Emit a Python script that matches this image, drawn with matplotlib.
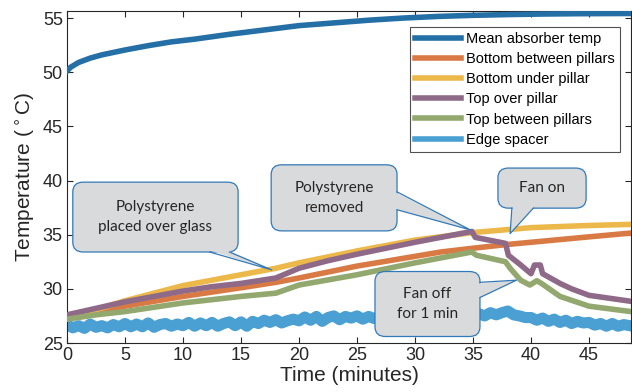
import numpy as np
import matplotlib
matplotlib.use("Agg")
import matplotlib.pyplot as plt
from matplotlib.patches import FancyBboxPatch, Polygon

plt.rcParams['font.family'] = ['Liberation Sans', 'DejaVu Sans']

# czasy i temperatury
t_mean = [0, 0.3, 1, 2, 3, 5, 7, 9, 11, 12, 14, 17, 20, 23, 26, 29, 32, 35, 38, 41, 44, 48.6]
T_mean = [50.1, 50.45, 50.9, 51.3, 51.6, 52.05, 52.45, 52.8, 53.05, 53.2, 53.5, 53.9, 54.3,
          54.55, 54.8, 55.0, 55.15, 55.25, 55.32, 55.37, 55.4, 55.42]

t_bot_between = [0, 5, 10, 15, 18, 20, 25, 30, 32.2, 35, 38, 40, 42.5, 45, 48.6]
T_bot_between = [27.3, 28.4, 29.3, 30.1, 30.6, 31.0, 32.1, 33.0, 33.4, 33.75, 34.1, 34.3, 34.55, 34.8, 35.15]

t_bot_under = [0, 2, 5, 10, 15, 18, 20, 25, 30, 35, 40, 45, 48.6]
T_bot_under = [27.2, 27.9, 28.9, 30.3, 31.3, 31.9, 32.4, 33.5, 34.5, 35.2, 35.65, 35.85, 35.95]

t_top_over = [0, 2.5, 5, 7.5, 10, 12.5, 15, 18, 20, 22.5, 25, 30, 34.9, 35.2, 37.8, 38.05, 39, 40,
              40.3, 40.8, 41.0, 42.5, 43.5, 45, 48.6]
T_top_over = [27.6, 28.2, 28.8, 29.3, 29.8, 30.2, 30.5, 31.0, 31.9, 32.6, 33.2, 34.3, 35.3, 34.75,
              34.2, 33.1, 32.3, 31.4, 32.2, 32.2, 31.4, 30.5, 30.0, 29.4, 28.85]

t_top_between = [0, 2.5, 5, 10, 15, 18, 20, 25, 30, 34.9, 35.3, 37.8, 38.2, 39.1, 39.9, 40.5, 40.9,
                 42.5, 45, 48.6]
T_top_between = [27.2, 27.6, 27.9, 28.7, 29.3, 29.6, 30.35, 31.3, 32.4, 33.4, 33.1, 32.5, 31.9, 30.8,
                 30.35, 30.75, 30.5, 29.3, 28.4, 27.9]

t_edge = np.arange(0, 49, 0.5)
T_edge = [26.7, 26.4, 26.6, 26.35, 26.75, 26.45, 26.6, 26.4, 26.7, 26.5,
          26.8, 26.5, 26.75, 26.5, 26.85, 26.45, 26.7, 26.8, 26.55, 26.75,
          26.6, 26.9, 26.55, 26.85, 26.6, 26.9, 26.55, 26.8, 26.95, 26.6,
          26.95, 26.55, 27.0, 26.8, 27.1, 26.9, 27.15, 26.85, 27.05, 27.2,
          27.05, 27.4, 27.1, 27.45, 27.0, 27.35, 27.5, 27.15, 27.45, 27.3,
          27.5, 27.2, 27.45, 27.25, 27.55, 27.3, 27.5, 27.15, 27.45, 27.3,
          27.5, 27.25, 27.6, 27.3, 27.5, 27.65, 27.3, 27.55, 27.35, 27.6,
          27.45, 27.7, 27.5, 27.8, 27.6, 27.8, 27.95, 27.6, 27.5, 27.35,
          27.35, 27.1, 27.3, 27.0, 27.2, 26.9, 27.1, 26.8, 27.0, 26.85,
          26.9, 26.65, 26.8, 26.55, 26.8, 26.55, 26.7, 26.6]

labels = ["Mean absorber temp", "Bottom between pillars", "Bottom under pillar",
          "Top over pillar", "Top between pillars", "Edge spacer"]
colors = ["#236FA6", "#D97A45", "#EDB84A", "#8E6A88", "#93A86E", "#4A9FD3"]

x_ticks = [0, 5, 10, 15, 20, 25, 30, 35, 40, 45]
y_ticks = [25, 30, 35, 40, 45, 50, 55]

# dymki: tekst, (t0, t1, T0, T1) prostokata, podstawa ogonka, czubek
callouts = [
    ("Polystyrene\nplaced over glass", (0.5, 14.75, 33.4, 39.85), [(12.3, 33.4), (14.0, 33.4)], (17.65, 31.75)),
    ("Polystyrene\nremoved", (17.6, 28.45, 35.35, 41.45), [(28.45, 38.95), (28.45, 37.3)], (34.75, 35.45)),
    ("Fan on", (37.15, 44.75, 37.45, 41.15), [(38.35, 37.45), (40.2, 37.45)], (38.2, 35.1)),
    ("Fan off\nfor 1 min", (26.55, 35.6, 25.6, 31.6), [(35.6, 30.6), (35.6, 29.2)], (38.75, 30.8)),
]

fig = plt.figure(figsize=(6.32, 3.92), dpi=100)
ax = fig.add_axes([67 / 632, 1 - 343 / 392, 564 / 632, 332 / 392])

series = [(t_mean, T_mean), (t_bot_between, T_bot_between), (t_bot_under, T_bot_under),
          (t_top_over, T_top_over), (t_top_between, T_top_between)]
for (t, T), lab, c in zip(series, labels[:5], colors[:5]):
    ax.plot(t, T, color=c, lw=4, label=lab, solid_joinstyle='round', zorder=3)
ax.plot(t_edge, T_edge, color=colors[5], lw=8, label=labels[5], zorder=2)

ax.set_xlim(0, 48.62)
ax.set_ylim(25, 55.65)
ax.set_xticks(x_ticks)
ax.set_yticks(y_ticks)
ax.tick_params(direction='in', top=True, right=True, length=4, width=0.8,
               labelsize=13, colors='#262626', pad=3)
for s in ax.spines.values():
    s.set_color('#262626')
    s.set_linewidth(0.8)
ax.set_xlabel("Time (minutes)", fontsize=15, color='#262626', labelpad=1)
ax.set_ylabel("Temperature ($^\\circ$C)", fontsize=15, color='#262626', labelpad=4)

leg = ax.legend(loc='upper right', bbox_to_anchor=(0.98, 0.952), fontsize=10.5, frameon=True,
                fancybox=False, handlelength=3.2, handletextpad=0.3, labelspacing=0.42,
                borderpad=0.35, borderaxespad=0)
leg.get_frame().set_edgecolor('#262626')
leg.get_frame().set_linewidth(0.8)
for h in leg.get_lines():
    h.set_linewidth(4)

fill = '#D9DADC'
edge = '#3279B8'
for text, (x0, x1, y0, y1), base, tip in callouts:
    box = FancyBboxPatch((x0, y0), x1 - x0, y1 - y0, boxstyle="round,pad=0,rounding_size=0.9",
                         fc=fill, ec=edge, lw=0.9, zorder=5)
    ax.add_patch(box)
    # ogonek: wypelnienie lekko wchodzi w prostokat, zeby zakryc krawedz
    (bx0, by0), (bx1, by1) = base
    cx, cy = (x0 + x1) / 2, (y0 + y1) / 2
    inset = [(bx0 + (cx - bx0) * 0.03, by0 + (cy - by0) * 0.06), tip,
             (bx1 + (cx - bx1) * 0.03, by1 + (cy - by1) * 0.06)]
    ax.add_patch(Polygon(inset, closed=True, fc=fill, ec='none', zorder=6))
    ax.plot([bx0, tip[0], bx1], [by0, tip[1], by1], color=edge, lw=0.9, zorder=7)
    ax.text(cx, cy, text, ha='center', va='center', multialignment='center',
            fontsize=11, family=['Lato', 'DejaVu Sans'], color='#262626', linespacing=1.55, zorder=8)

plt.savefig("out.png", dpi=100)
